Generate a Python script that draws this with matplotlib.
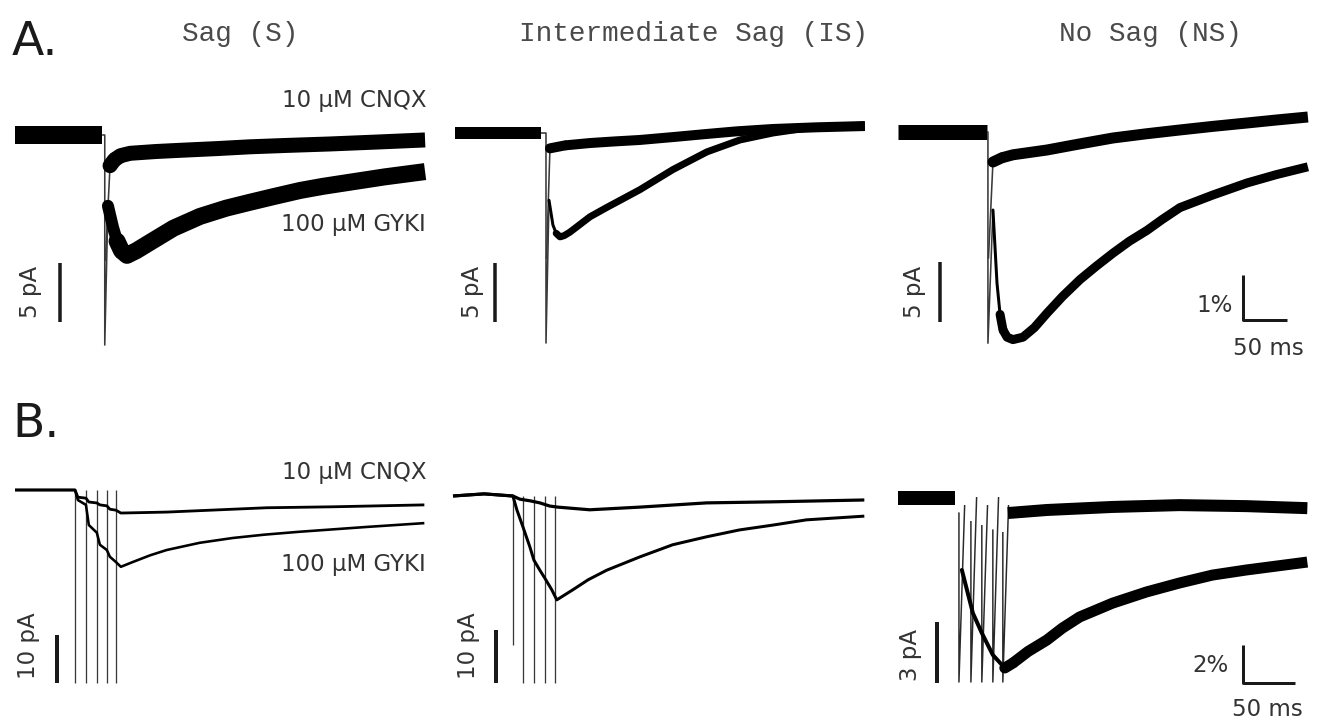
import matplotlib
matplotlib.use("Agg")
import matplotlib.pyplot as plt

W, H = 1326, 728

# ---------------- text ----------------
row_labels = ["A.", "B."]
col_titles = ["Sag (S)", "Intermediate Sag (IS)", "No Sag (NS)"]
drug_labels = ["10 µM CNQX", "100 µM GYKI"]
bar_pA_A = [5, 5, 5]
bar_pA_B = [10, 10, 3]
bar_pct = ["1%", "2%"]
bar_ms = 50

# ---------------- Row A : single stimulus (time ms, current pA) ----------------
# Sag (S)
s_base_t = [0, 99]
s_stim_t = 102
s_stim_depth = -17.8
s_cnqx_t = [108, 113, 120, 131, 160, 187, 230, 267, 310, 358, 410, 466]
s_cnqx_i = [-2.6, -2.1, -1.75, -1.55, -1.4, -1.3, -1.15, -1.0, -0.88, -0.76, -0.6, -0.42]
s_gyki_t = [105.6, 111.3, 116, 121, 127.2, 138, 153.4, 180, 210.2, 240, 267, 295, 324, 350, 380.6, 420, 466]
s_gyki_i = [-6.0, -7.8, -9.0, -9.8, -10.2, -9.8, -9.1, -7.9, -6.9, -6.2, -5.7, -5.2, -4.7, -4.35, -4.0, -3.55, -3.1]

# Intermediate Sag (IS)
is_base_t = [0, 97.7]
is_stim_t = 103.4
is_stim_depth = -17.8
is_cnqx_t = [107.9, 125, 153.4, 180, 210.2, 250, 286.3, 320, 361.2, 410, 465.8]
is_cnqx_i = [-1.3, -1.05, -0.85, -0.72, -0.59, -0.33, -0.08, 0.14, 0.34, 0.48, 0.59]
is_gyki_t = [106.8, 111.3, 115, 119.3, 124, 130.6, 153.4, 172.7, 210.2, 247.6, 286.3, 323.8, 361.2, 399.9, 465.8]
is_gyki_i = [-5.7, -7.8, -8.5, -8.8, -8.7, -8.4, -7.1, -6.3, -4.8, -3.1, -1.6, -0.59, 0.0, 0.42, 0.68]

# No Sag (NS)
ns_base_t = [0, 101]
ns_stim_t = 102.2
ns_stim_depth = -17.6
ns_cnqx_t = [107.9, 118, 130.6, 169.3, 206, 244.2, 282, 320.4, 358, 396.5, 430, 465.8]
ns_cnqx_i = [-2.5, -2.15, -1.9, -1.5, -1.0, -0.5, -0.15, 0.17, 0.47, 0.75, 1.0, 1.25]
ns_gyki_t = [107.9, 112.5, 116, 119.3, 124, 130.6, 142, 155, 169.3, 187, 206.8, 225, 244.2, 263, 282.9, 300, 320.4, 357.8, 396.5, 430, 465.8]
ns_gyki_i = [-6.5, -12.6, -15.2, -16.5, -17.1, -17.3, -17.1, -16.3, -15.1, -13.7, -12.3, -11.2, -10.1, -9.1, -8.2, -7.3, -6.3, -5.25, -4.25, -3.55, -2.9]

# ---------------- Row B : 5-pulse train (time ms, current pA) ----------------
# Sag (S)
bs_stim_t = [57.7, 68.2, 78.7, 88.3, 97.0]
bs_stim_depth = [-40.2, -40.2, -40.2, -40.2, -40.2]
bs_cnqx_t = [0, 57.7, 60.5, 68.2, 71.0, 78.7, 81.6, 88.3, 91.2, 97.0, 101.8, 145.9, 241.9, 305.3, 393.6]
bs_cnqx_i = [0, 0, -1.5, -1.7, -2.5, -2.7, -3.1, -3.3, -4.0, -4.2, -4.8, -4.6, -3.7, -3.5, -3.1]
bs_gyki_t = [0, 57.7, 60.5, 68.2, 71.0, 78.7, 81.6, 88.3, 91.2, 97.0, 101.8, 113.3, 130, 145.9, 177.6, 209.3, 240, 273.6, 337.9, 393.6]
bs_gyki_i = [0, 0, -2.1, -3.1, -7.3, -8.9, -11.4, -12.5, -13.9, -15.0, -16.0, -15.0, -13.6, -12.5, -11.0, -10.0, -9.3, -8.7, -7.7, -6.9]

# Intermediate Sag (IS)
bis_stim_t = [57.6, 67.2, 77.8, 88.3, 97.9]
bis_stim_depth = [-28.1, -35.3, -35.3, -35.3, -35.3]
bis_cnqx_t = [0, 30, 57.6, 64.3, 73.9, 83.5, 93.1, 100.8, 131.5, 179.5, 243.8, 307.2, 395.5]
bis_cnqx_i = [0, 0.4, 0, -0.6, -0.9, -1.3, -1.9, -2.1, -2.6, -2.1, -1.3, -1.1, -0.75]
bis_gyki_t = [0, 30, 57.6, 61.4, 67.2, 73.9, 77.8, 83.5, 88.3, 95.0, 99.8, 115.2, 130, 147.8, 179.5, 211.2, 243.8, 275.5, 307.2, 339.8, 395.5]
bis_gyki_i = [0, 0.4, 0, -2.6, -5.8, -9.6, -12.1, -14.0, -15.5, -17.7, -19.6, -17.7, -15.8, -14.0, -11.5, -9.2, -7.7, -6.4, -5.5, -4.5, -3.8]

# No Sag (NS)
bns_base_t = [0, 54.7]
bns_stim_t = [58.6, 70.1, 80.6, 91.2, 100.8]
bns_stim_depth = [-9.05, -9.05, -9.05, -9.05, -9.05]
bns_cnqx_t = [105.6, 143.0, 206.4, 270.7, 335.0, 393.6]
bns_cnqx_i = [-0.74, -0.59, -0.44, -0.35, -0.4, -0.5]
bns_gyki_t = [61.4, 72.0, 80.6, 91.2, 102.7, 110.4, 125, 143.0, 158, 174.7, 206.4, 239.0, 270.7, 302.4, 335.0, 393.6]
bns_gyki_i = [-3.54, -5.66, -6.64, -7.72, -8.36, -8.12, -7.55, -6.99, -6.4, -5.85, -5.17, -4.62, -4.18, -3.79, -3.54, -3.15]

# ---------------- layout helpers ----------------
fig = plt.figure(figsize=(W / 100, H / 100), dpi=100)
PT = 0.72  # points per pixel


class Panel:
    def __init__(self, box, x0, y0, sx, sy):
        L, T, R, B = box
        self.x0, self.y0, self.sx, self.sy = x0, y0, sx, sy
        self.ax = fig.add_axes([L / W, 1 - B / H, (R - L) / W, (B - T) / H])
        self.ax.set_xlim((L - x0) * sx, (R - x0) * sx)
        self.ax.set_ylim(-(B - y0) * sy, -(T - y0) * sy)
        self.ax.axis("off")

    def t(self, px):
        return (px - self.x0) * self.sx

    def i(self, py):
        return -(py - self.y0) * self.sy

    def line(self, x, y, lw_px, color="black", cap="butt", **kw):
        self.ax.plot(x, y, color=color, lw=lw_px * PT, clip_on=False,
                     solid_capstyle=cap, solid_joinstyle="round", **kw)

    def vbar(self, px, py_bottom, length, lw_px=3.5):
        t = self.t(px)
        b = self.i(py_bottom)
        self.line([t, t], [b, b + length], lw_px, color="#1a1a1a")


def ftext(x, y, s, **kw):
    fig.text(x / W, 1 - y / H, s, **kw)


SA = 50 / 44.0   # ms per pixel, row A
SB = 50 / 52.0   # ms per pixel, row B

# ---------------- Row A ----------------
pA1 = Panel((0, 60, 440, 370), 15, 135, SA, 5 / 59.0)
pA2 = Panel((440, 60, 880, 370), 455, 133, SA, 5 / 59.0)
pA3 = Panel((880, 60, 1326, 370), 898, 132, SA, 5 / 60.0)

rowA = [
    (pA1, s_base_t, s_stim_t, s_stim_depth, s_cnqx_t, s_cnqx_i, s_gyki_t, s_gyki_i, (18, 15, 17, 12)),
    (pA2, is_base_t, is_stim_t, is_stim_depth, is_cnqx_t, is_cnqx_i, is_gyki_t, is_gyki_i, (12, 10, 7, 3)),
    (pA3, ns_base_t, ns_stim_t, ns_stim_depth, ns_cnqx_t, ns_cnqx_i, ns_gyki_t, ns_gyki_i, (15, 11, 9, 3)),
]
for p, bt, st, sd, ct, ci, gt, gi, (lb, lc, lg, lg0) in rowA:
    p.line(bt, [0] * len(bt), lb)
    # stimulus artifact
    p.line([bt[-1], st, st, gt[0]], [0, 0, sd, gi[0]], 1.6, color="#3a3a3a")
    p.line([st + 0.6, ct[0]], [sd * 0.6, ci[0]], 1.6, color="#3a3a3a")
    p.line(ct[:2], ci[:2], lc, cap="round")
    p.line(ct[1:], ci[1:], lc)
    p.line(gt[:3], gi[:3], lg0, cap="round")
    p.line(gt[2:4], gi[2:4], lg, cap="round")
    p.line(gt[3:], gi[3:], lg)

pA1.vbar(60, 322, bar_pA_A[0])
pA2.vbar(495, 322, bar_pA_A[1])
pA3.vbar(940, 322, bar_pA_A[2])
# L scale bar (row A)
tL = pA3.t(1243)
iL = pA3.i(320)
pA3.line([tL, tL, tL + bar_ms], [pA3.i(275), iL, iL], 3, color="#1a1a1a")

# ---------------- Row B ----------------
pB1 = Panel((0, 440, 440, 728), 15, 490, SB, 10 / 48.0)
pB2 = Panel((440, 440, 880, 728), 453, 496, SB, 10 / 53.0)
pB3 = Panel((880, 440, 1326, 728), 898, 498, SB, 3 / 61.0)

for p, st, sd in [(pB1, bs_stim_t, bs_stim_depth), (pB2, bis_stim_t, bis_stim_depth)]:
    for t, d in zip(st, sd):
        p.line([t, t], [0, d], 1.3, color="#3a3a3a")

pB1.line(bs_cnqx_t, bs_cnqx_i, 2.8)
pB1.line(bs_gyki_t, bs_gyki_i, 2.6)
pB2.line(bis_cnqx_t, bis_cnqx_i, 3.2)
pB2.line(bis_gyki_t, bis_gyki_i, 3.0)

# No Sag train: artifacts swing back up after each pulse
for k, (t, d) in enumerate(zip(bns_stim_t, bns_stim_depth)):
    top = pB3.i(505 - 8 * (k % 2))
    pB3.line([t, t, t + 5.5], [bns_gyki_i[min(k, len(bns_gyki_i) - 1)] * 0.2, d, top], 1.5, color="#2a2a2a")
pB3.line(bns_base_t, [0] * len(bns_base_t), 14)
pB3.line(bns_cnqx_t, bns_cnqx_i, 12)
pB3.line(bns_gyki_t[:5], bns_gyki_i[:5], 4, cap="round")
pB3.line(bns_gyki_t[4:6], bns_gyki_i[4:6], 11, cap="round")
pB3.line(bns_gyki_t[5:], bns_gyki_i[5:], 11)

pB1.vbar(57, 683, bar_pA_B[0], 4)
pB2.vbar(496, 683, bar_pA_B[1], 4)
pB3.vbar(937, 683, bar_pA_B[2], 4)
tL = pB3.t(1243)
iL = pB3.i(683)
pB3.line([tL, tL, tL + bar_ms], [pB3.i(645), iL, iL], 3, color="#1a1a1a")

# ---------------- text ----------------
lab = dict(family="DejaVu Sans", fontsize=16.5, color="#333333")
big = dict(family="DejaVu Sans", fontsize=34, color="#1a1a1a")
mono = dict(family="Liberation Mono", fontsize=20, color="#4a4a4a")

ftext(12, 55, row_labels[0], ha="left", va="baseline", **big)
ftext(12, 437, row_labels[1], ha="left", va="baseline", **big)

for x, s in zip([240, 694, 1150], col_titles):
    ftext(x, 34, s, ha="center", va="center", **mono)

ftext(426, 101, drug_labels[0], ha="right", va="center", **lab)
ftext(426, 224, drug_labels[1], ha="right", va="center", **lab)
ftext(426, 472, drug_labels[0], ha="right", va="center", **lab)
ftext(426, 565, drug_labels[1], ha="right", va="center", **lab)

for x, y, v in [(31, 292, bar_pA_A[0]), (472, 292, bar_pA_A[1]), (914, 292, bar_pA_A[2]),
                (28, 646, bar_pA_B[0]), (468, 646, bar_pA_B[1]), (911, 655, bar_pA_B[2])]:
    ftext(x, y, f"{v} pA", ha="center", va="center", rotation=90, **lab)

ftext(1233, 305, bar_pct[0], ha="right", va="center", **lab)
ftext(1268, 348, f"{bar_ms} ms", ha="center", va="center", **lab)
ftext(1229, 665, bar_pct[1], ha="right", va="center", **lab)
ftext(1267, 709, f"{bar_ms} ms", ha="center", va="center", **lab)

fig.savefig("out.png", dpi=100, facecolor="white")
